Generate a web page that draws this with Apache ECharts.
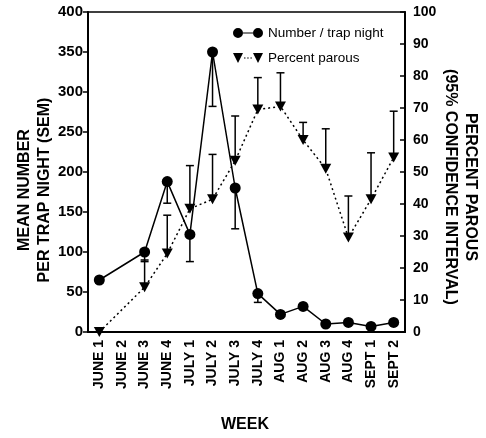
<!DOCTYPE html>
<html><head><meta charset="utf-8">
<script src="https://cdn.jsdelivr.net/npm/echarts@6/dist/echarts.min.js"></script>
<style>html,body{margin:0;padding:0;background:#fff}#c{width:486px;height:438px}</style>
</head><body><div id="c"></div>
<script>
var weeks = ['JUNE 1','JUNE 2','JUNE 3','JUNE 4','JULY 1','JULY 2','JULY 3','JULY 4','AUG 1','AUG 2','AUG 3','AUG 4','SEPT 1','SEPT 2'];
var numberPerTrapNight = [65, null, 100, 188, 122, 350, 180, 48, 22, 32, 10, 12, 7, 12];
var numberSemLower     = [61, null, 88, 161, 88, 282, 129, 37, null, null, null, null, null, null];
var percentParous      = [0, null, 14, 24.5, 38.5, 41.5, 53.5, 69.5, 70.5, 60, 51, 29.5, 41.5, 54.5];
var parousCiUpper      = [null, null, 22.5, 36.5, 52, 55.5, 67.5, 79.5, 81, 65.5, 63.5, 42.5, 56, 69];
var leftTicks = {min: 0, max: 400, interval: 50};
var rightTicks = {min: 0, max: 100, interval: 10};

var FONT = '"Liberation Sans", Arial, Helvetica, sans-serif';
function errData(vals, ends) {
  var out = [];
  for (var i = 0; i < vals.length; i++) {
    if (vals[i] != null && ends[i] != null) out.push([i, vals[i], ends[i]]);
  }
  return out;
}
function renderErr(params, api) {
  var p1 = api.coord([api.value(0), api.value(1)]);
  var p2 = api.coord([api.value(0), api.value(2)]);
  var hw = 4;
  return {
    type: 'group',
    children: [
      {type: 'line', shape: {x1: p1[0], y1: p1[1], x2: p2[0], y2: p2[1]}, style: {stroke: '#000', lineWidth: 1.5}},
      {type: 'line', shape: {x1: p2[0] - hw, y1: p2[1], x2: p2[0] + hw, y2: p2[1]}, style: {stroke: '#000', lineWidth: 1.5}}
    ]
  };
}
var iconCircleLine = 'path://M0,5 A5,5 0 1,1 10,5 A5,5 0 1,1 0,5 Z M10,4.4 L20,4.4 L20,5.6 L10,5.6 Z M20,5 A5,5 0 1,1 30,5 A5,5 0 1,1 20,5 Z';
var iconTriDots = 'path://M0,0 L10,0 L5,10 Z M20,0 L30,0 L25,10 Z M11,4.4 L12.5,4.4 L12.5,5.6 L11,5.6 Z M14.2,4.4 L15.7,4.4 L15.7,5.6 L14.2,5.6 Z M17.4,4.4 L18.9,4.4 L18.9,5.6 L17.4,5.6 Z';

var chart = echarts.init(document.getElementById('c'), null, {renderer: 'canvas'});
chart.setOption({
  animation: false,
  backgroundColor: '#fff',
  textStyle: {fontFamily: FONT},
  grid: {left: 88, right: 81, top: 12, bottom: 106, show: true, borderColor: '#000', borderWidth: 1.5, backgroundColor: 'transparent'},
  legend: {
    orient: 'vertical', left: 228, top: 21, itemWidth: 30, itemHeight: 10, itemGap: 11,
    textStyle: {fontFamily: FONT, fontSize: 13.5, color: '#000'},
    data: [
      {name: 'Number / trap night', icon: iconCircleLine},
      {name: 'Percent parous', icon: iconTriDots}
    ]
  },
  xAxis: {
    type: 'category', data: weeks, boundaryGap: true,
    axisLine: {lineStyle: {color: '#000', width: 2}},
    axisTick: {alignWithLabel: true, inside: true, length: 6, lineStyle: {color: '#000', width: 1.5}},
    axisLabel: {rotate: 90, fontFamily: FONT, fontWeight: 'bold', fontSize: 14, color: '#000', margin: 8, interval: 0}
  },
  yAxis: [
    {type: 'value', min: leftTicks.min, max: leftTicks.max, interval: leftTicks.interval,
     splitLine: {show: false},
     axisLine: {show: true, lineStyle: {color: '#000', width: 2}},
     axisTick: {show: true, length: 5, lineStyle: {color: '#000', width: 1.5}},
     axisLabel: {fontFamily: FONT, fontWeight: 'bold', fontSize: 15, color: '#000', margin: 5}},
    {type: 'value', min: rightTicks.min, max: rightTicks.max, interval: rightTicks.interval, position: 'right',
     splitLine: {show: false},
     axisLine: {show: true, lineStyle: {color: '#000', width: 2}},
     axisTick: {show: true, inside: true, length: 5, lineStyle: {color: '#000', width: 1.5}},
     axisLabel: {fontFamily: FONT, fontWeight: 'bold', fontSize: 14, color: '#000', margin: 8}}
  ],
  series: [
    {name: 'Number / trap night', type: 'line', yAxisIndex: 0, data: numberPerTrapNight, connectNulls: true,
     symbol: 'circle', symbolSize: 11, itemStyle: {color: '#000'}, lineStyle: {color: '#000', width: 1.5}, z: 5},
    {name: 'Percent parous', type: 'line', yAxisIndex: 1, data: percentParous, connectNulls: true,
     symbol: 'triangle', symbolRotate: 180, symbolSize: [11, 10], itemStyle: {color: '#000'},
     lineStyle: {color: '#000', width: 1.5, type: [2, 3]}, z: 5},
    {type: 'custom', yAxisIndex: 0, data: errData(numberPerTrapNight, numberSemLower), renderItem: renderErr, z: 4, silent: true},
    {type: 'custom', yAxisIndex: 1, data: errData(percentParous, parousCiUpper), renderItem: renderErr, z: 4, silent: true}
  ],
  graphic: [
    {type: 'text', x: 35, y: 190, rotation: Math.PI / 2,
     style: {text: 'MEAN NUMBER\nPER TRAP NIGHT (SEM)', fontFamily: FONT, fontWeight: 'bold', fontSize: 16, fill: '#000', align: 'center', verticalAlign: 'middle', lineHeight: 20}},
    {type: 'text', x: 460, y: 187, rotation: -Math.PI / 2,
     style: {text: 'PERCENT PAROUS\n(95% CONFIDENCE INTERVAL)', fontFamily: FONT, fontWeight: 'bold', fontSize: 16, fill: '#000', align: 'center', verticalAlign: 'middle', lineHeight: 20}},
    {type: 'text', x: 245, y: 425,
     style: {text: 'WEEK', fontFamily: FONT, fontWeight: 'bold', fontSize: 16, fill: '#000', align: 'center', verticalAlign: 'middle'}}
  ]
});
</script></body></html>
